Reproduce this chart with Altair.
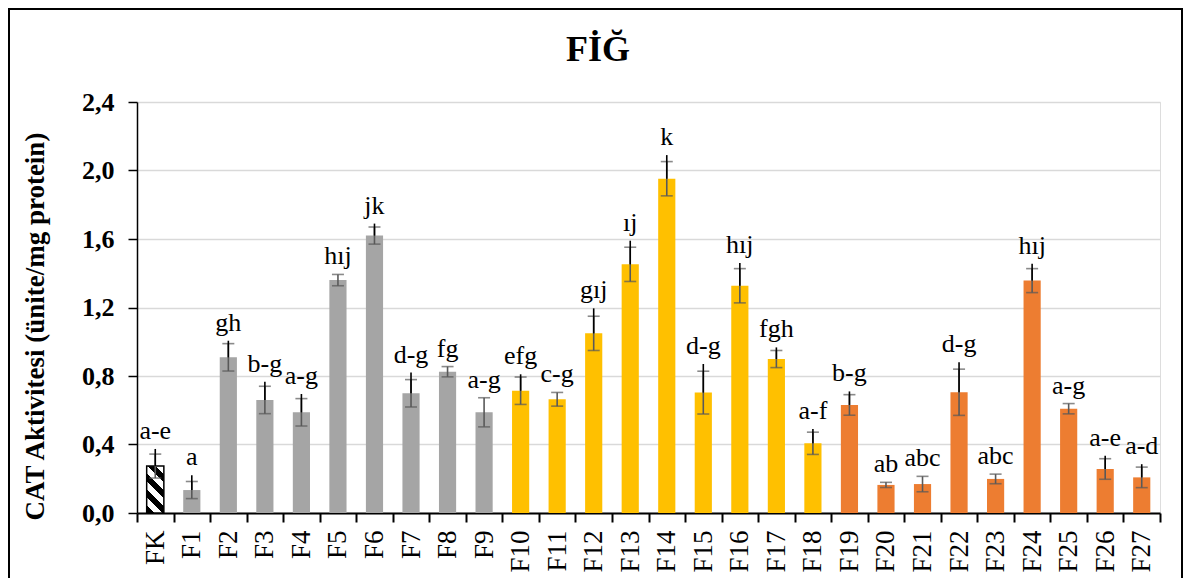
import altair as alt
import pandas as pd

# ---- data ----
categories = ["FK", "F1", "F2", "F3", "F4", "F5", "F6", "F7", "F8", "F9",
              "F10", "F11", "F12", "F13", "F14", "F15", "F16", "F17", "F18",
              "F19", "F20", "F21", "F22", "F23", "F24", "F25", "F26", "F27"]
groups = ["FK"] + ["A"] * 9 + ["B"] * 9 + ["C"] * 9
values = [0.274, 0.134, 0.909, 0.660, 0.588, 1.360, 1.620, 0.699, 0.825, 0.588,
          0.714, 0.664, 1.049, 1.452, 1.952, 0.703, 1.327, 0.899, 0.407,
          0.631, 0.164, 0.169, 0.705, 0.199, 1.357, 0.609, 0.257, 0.208]
errors = [0.070, 0.050, 0.080, 0.080, 0.080, 0.033, 0.050, 0.080, 0.030, 0.085,
          0.080, 0.040, 0.100, 0.100, 0.100, 0.125, 0.100, 0.050, 0.065,
          0.060, 0.015, 0.045, 0.135, 0.028, 0.070, 0.030, 0.060, 0.060]
upper_whisker = [0.374, 0.220, 1.006, 0.767, 0.695, None, 1.690, 0.820, None, None,
                 0.810, None, 1.195, 1.590, 2.090, 0.870, 1.460, 0.967, 0.490,
                 0.710, None, None, 0.880, None, 1.455, None, 0.335, 0.285]
letters = ["a-e", "a", "gh", "b-g", "a-g", "hıj", "jk", "d-g", "fg", "a-g",
           "efg", "c-g", "gıj", "ıj", "k", "d-g", "hıj", "fgh", "a-f",
           "b-g", "ab", "abc", "d-g", "abc", "hıj", "a-g", "a-e", "a-d"]
y_ticks = [0.0, 0.4, 0.8, 1.2, 1.6, 2.0, 2.4]
chart_title = "FİĞ"
y_title = "CAT Aktivitesi (ünite/mg protein)"

df = pd.DataFrame({"cat": categories, "grp": groups, "value": values, "err": errors,
                   "top": upper_whisker, "letter": letters})
df["lo"] = df["value"] - df["err"]
df["hi"] = df["value"] + df["err"]
df["label_y"] = df[["hi", "top"]].max(axis=1)

FONT = "Liberation Serif"
W, H = 1023, 411

xaxis = alt.Axis(title=None, labelAngle=270, labelFont=FONT, labelFontSize=27,
                 labelColor="black", tickBand="extent", tickColor="black",
                 tickSize=9, tickWidth=2, domainColor="black", domainWidth=2,
                 labelPadding=8, grid=False)
yaxis = alt.Axis(title=y_title, values=y_ticks,
                 labelExpr="replace(format(datum.value, '.1f'), '.', ',')",
                 labelFont=FONT, labelFontSize=26, labelFontWeight="bold",
                 labelColor="black", tickColor="black", tickSize=9, tickWidth=1.5,
                 domainColor="black", domainWidth=1.5, labelPadding=14,
                 gridColor="#d9d9d9", gridWidth=1.5,
                 titleFont=FONT, titleFontSize=27, titleFontWeight="bold",
                 titleColor="black", titleX=-102, titleY=224,
                 titleAlign="center", titleBaseline="middle", titleAngle=270)

xenc = alt.X("cat:N", sort=categories, axis=xaxis,
             scale=alt.Scale(paddingInner=0, paddingOuter=0))
yscale = alt.Scale(domain=[0, 2.4], nice=False)

base = alt.Chart(df)

bars = base.transform_filter("datum.grp != 'FK'").mark_bar(
    width={"band": 0.47}
).encode(
    x=xenc,
    y=alt.Y("value:Q", scale=yscale, axis=yaxis),
    color=alt.Color("grp:N", scale=alt.Scale(domain=["A", "B", "C"],
                                             range=["#a5a5a5", "#ffc000", "#ed7d31"]),
                    legend=None),
)

stops = []
period = 0.25
for k in range(5):
    s = k * period
    stops += [{"offset": min(s, 1), "color": "black"},
              {"offset": min(s + period / 2, 1), "color": "black"},
              {"offset": min(s + period / 2, 1), "color": "white"},
              {"offset": min(s + period, 1), "color": "white"}]
hatch = {"gradient": "linear", "x1": 0, "y1": 1, "x2": 0.432, "y2": -0.2, "stops": stops}

fk_bar = base.transform_filter("datum.grp == 'FK'").mark_bar(
    width={"band": 0.47}, fill=hatch, stroke="black", strokeWidth=1.5
).encode(
    x=xenc,
    y=alt.Y("value:Q", scale=yscale, axis=yaxis),
)

err_rule = base.mark_rule(color="#595959", strokeWidth=1.6).encode(
    x=xenc, y=alt.Y("lo:Q", scale=yscale, axis=yaxis), y2="hi:Q")
cap_lo = base.mark_tick(color="#595959", size=12, thickness=1.6).encode(
    x=xenc, y=alt.Y("lo:Q", scale=yscale, axis=yaxis))
cap_hi = base.mark_tick(color="#595959", size=12, thickness=1.6).encode(
    x=xenc, y=alt.Y("hi:Q", scale=yscale, axis=yaxis))
black_rule = base.transform_filter("isValid(datum.top)").mark_rule(
    color="black", strokeWidth=1.6
).encode(x=xenc, y=alt.Y("value:Q", scale=yscale, axis=yaxis), y2="top:Q")

labels = base.mark_text(font=FONT, fontSize=26, color="black",
                        baseline="alphabetic", dy=-10).encode(
    x=xenc, y=alt.Y("label_y:Q", scale=yscale, axis=yaxis), text="letter:N")

title_df = pd.DataFrame({"t": [chart_title]})
title = alt.Chart(title_df).mark_text(font=FONT, fontSize=36, fontWeight="bold",
                                      color="black", baseline="alphabetic",
                                      align="center").encode(
    text="t:N", x=alt.value(461), y=alt.value(-41))

frame = alt.Chart(title_df).mark_rect(fill=None, filled=False, stroke="black",
                                      strokeWidth=2).encode(
    x=alt.value(-128), x2=alt.value(1045), y=alt.value(-93), y2=alt.value(520))

chart = alt.layer(bars, fk_bar, err_rule, cap_lo, cap_hi, black_rule, labels,
                  title, frame).properties(
    width=W, height=H,
    autosize=alt.AutoSizeParams(type="none"),
    padding={"left": 129, "top": 94, "right": 24, "bottom": 65},
).configure_view(stroke=None).configure(background="white")

chart.save("out.html", embed_options={"renderer": "svg", "actions": False})
